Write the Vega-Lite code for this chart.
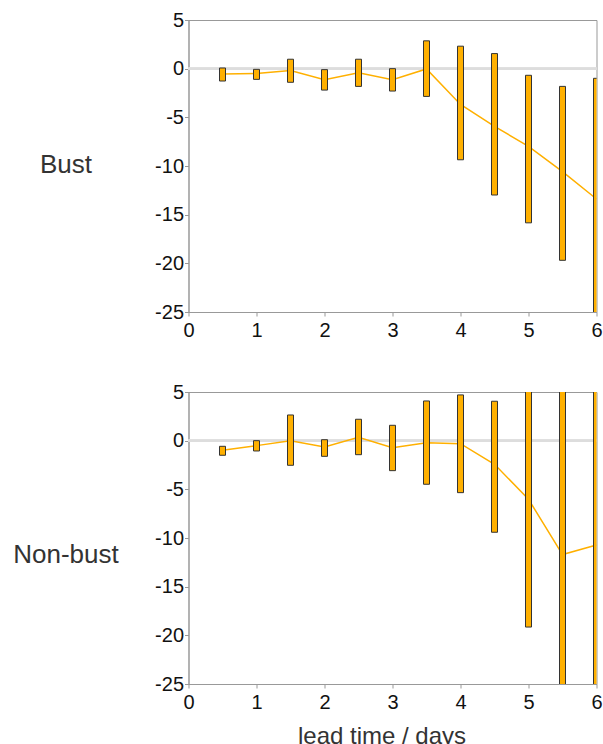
{
  "$schema": "https://vega.github.io/schema/vega-lite/v6.json",
  "padding": {"left": 11.5, "top": 9, "right": 0, "bottom": 0},
  "datasets": {
    "bust": [
      {"lead": 0.5, "hi": 0.07, "lo": -1.27, "mean": -0.55},
      {"lead": 1.0, "hi": -0.07, "lo": -1.1, "mean": -0.5},
      {"lead": 1.5, "hi": 0.97, "lo": -1.4, "mean": -0.2},
      {"lead": 2.0, "hi": -0.1, "lo": -2.2, "mean": -1.13},
      {"lead": 2.5, "hi": 0.97, "lo": -1.82, "mean": -0.41},
      {"lead": 3.0, "hi": 0.0, "lo": -2.3, "mean": -1.13},
      {"lead": 3.5, "hi": 2.86, "lo": -2.85, "mean": -0.03},
      {"lead": 4.0, "hi": 2.31, "lo": -9.36, "mean": -3.68},
      {"lead": 4.5, "hi": 1.55, "lo": -12.98, "mean": -5.92},
      {"lead": 5.0, "hi": -0.68, "lo": -15.84, "mean": -7.99},
      {"lead": 5.5, "hi": -1.82, "lo": -19.69, "mean": -10.57},
      {"lead": 6.0, "hi": -0.99, "lo": -27.0, "mean": -13.39}
    ],
    "nonbust": [
      {"lead": 0.5, "hi": -0.58, "lo": -1.5, "mean": -0.99},
      {"lead": 1.0, "hi": 0.0, "lo": -1.06, "mean": -0.51},
      {"lead": 1.5, "hi": 2.64, "lo": -2.53, "mean": 0.0},
      {"lead": 2.0, "hi": 0.1, "lo": -1.61, "mean": -0.65},
      {"lead": 2.5, "hi": 2.2, "lo": -1.44, "mean": 0.34},
      {"lead": 3.0, "hi": 1.58, "lo": -3.08, "mean": -0.72},
      {"lead": 3.5, "hi": 4.08, "lo": -4.48, "mean": -0.21},
      {"lead": 4.0, "hi": 4.7, "lo": -5.34, "mean": -0.31},
      {"lead": 4.5, "hi": 4.05, "lo": -9.41, "mean": -2.43},
      {"lead": 5.0, "hi": 6.0, "lo": -19.15, "mean": -6.02},
      {"lead": 5.5, "hi": 7.0, "lo": -28.0, "mean": -11.7},
      {"lead": 6.0, "hi": 7.0, "lo": -28.0, "mean": -10.72}
    ]
  },
  "config": {
    "font": "Liberation Sans",
    "view": {"stroke": "#999999", "strokeWidth": 1},
    "axis": {
      "grid": false,
      "domainColor": "#999999",
      "tickColor": "#999999",
      "tickSize": 4,
      "labelFont": "Liberation Sans",
      "labelFontSize": 20,
      "labelColor": "#111111",
      "labelFlush": false,
      "labelExpr": "datum.value + ''",
      "titleFont": "Liberation Sans",
      "titleFontWeight": "normal",
      "titleColor": "#333333"
    },
    "axisY": {
      "labelPadding": 1,
      "titleAngle": 0,
      "titleAlign": "center",
      "titleBaseline": "alphabetic",
      "titleX": -123,
      "titleFontSize": 26
    },
    "axisX": {
      "labelPadding": 4,
      "titleFontSize": 24,
      "titleAlign": "center",
      "titleBaseline": "alphabetic",
      "titleX": 193,
      "titleY": 59
    }
  },
  "spacing": 80,
  "bounds": "flush",
  "vconcat": [
    {
      "width": 408,
      "height": 292,
      "data": {"name": "bust"},
      "layer": [
        {
          "mark": {"type": "rule", "color": "#dddddd", "strokeWidth": 2},
          "encoding": {
            "y": {"datum": 0, "type": "quantitative", "scale": {"domain": [-25, 5], "nice": false}, "title": "Bust",
              "axis": {"values": [-25, -20, -15, -10, -5, 0, 5], "titleY": 152}}
          }
        },
        {
          "mark": {"type": "line", "color": "#FFB000", "strokeWidth": 1.5, "clip": true},
          "encoding": {
            "x": {"field": "lead", "type": "quantitative", "scale": {"domain": [0, 6], "nice": false, "padding": 0}, "title": null,
              "axis": {"values": [0, 1, 2, 3, 4, 5, 6]}},
            "y": {"field": "mean", "type": "quantitative", "title": "Bust"}
          }
        },
        {
          "mark": {"type": "bar", "size": 6, "fill": "#FFB000", "stroke": "#333333", "strokeWidth": 1, "clip": true},
          "encoding": {
            "x": {"field": "lead", "type": "quantitative", "title": null},
            "y": {"field": "hi", "type": "quantitative", "title": "Bust"},
            "y2": {"field": "lo"}
          }
        }
      ]
    },
    {
      "width": 408,
      "height": 292,
      "data": {"name": "nonbust"},
      "layer": [
        {
          "mark": {"type": "rule", "color": "#dddddd", "strokeWidth": 2},
          "encoding": {
            "y": {"datum": 0, "type": "quantitative", "scale": {"domain": [-25, 5], "nice": false}, "title": "Non-bust",
              "axis": {"values": [-25, -20, -15, -10, -5, 0, 5], "titleY": 170}}
          }
        },
        {
          "mark": {"type": "line", "color": "#FFB000", "strokeWidth": 1.5, "clip": true},
          "encoding": {
            "x": {"field": "lead", "type": "quantitative", "scale": {"domain": [0, 6], "nice": false, "padding": 0}, "title": "lead time / days",
              "axis": {"values": [0, 1, 2, 3, 4, 5, 6]}},
            "y": {"field": "mean", "type": "quantitative", "title": "Non-bust"}
          }
        },
        {
          "mark": {"type": "bar", "size": 6, "fill": "#FFB000", "stroke": "#333333", "strokeWidth": 1, "clip": true},
          "encoding": {
            "x": {"field": "lead", "type": "quantitative", "title": "lead time / days"},
            "y": {"field": "hi", "type": "quantitative", "title": "Non-bust"},
            "y2": {"field": "lo"}
          }
        }
      ]
    }
  ]
}
